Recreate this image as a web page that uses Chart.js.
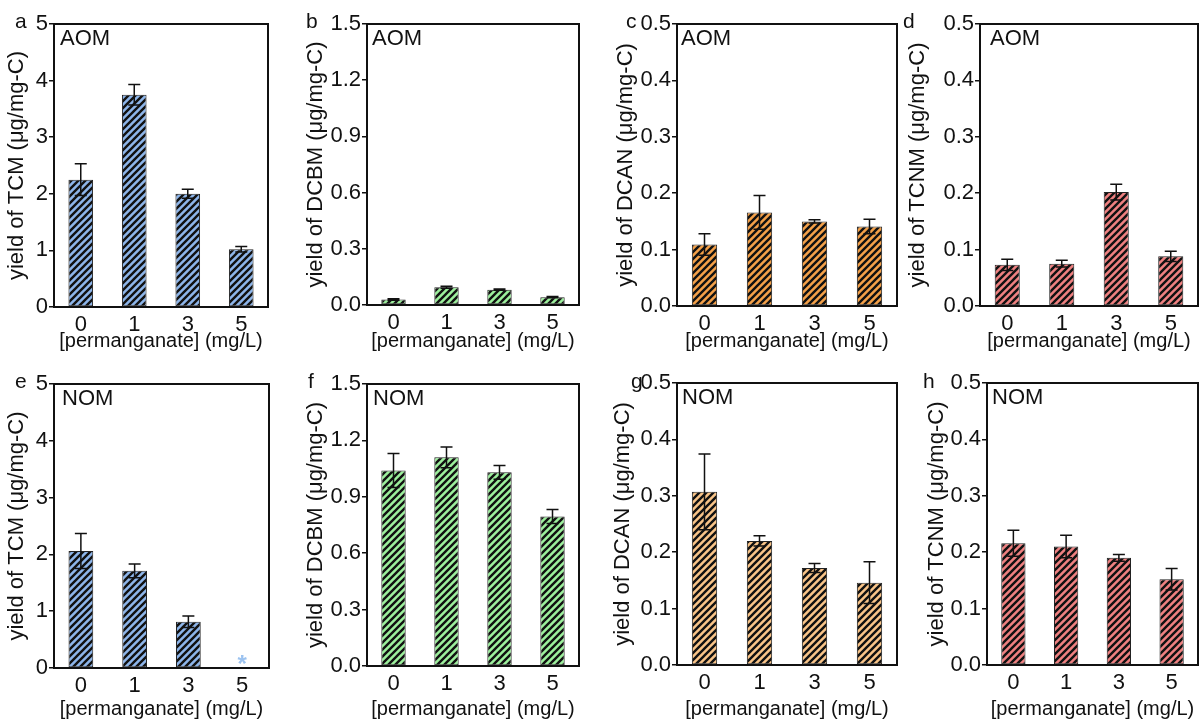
<!DOCTYPE html>
<html>
<head>
<meta charset="utf-8">
<script src="https://cdn.jsdelivr.net/npm/chart.js@4"></script>
<style>
body { margin: 0; background: #fff; width: 1201px; height: 719px; position: relative; overflow: hidden; }
canvas { position: absolute; }
</style>
</head>
<body>
<script>
const categories = ['0', '1', '3', '5'];

// AOM row
const tcmAom = [2.25, 3.75, 2.00, 1.02];
const tcmAomErr = [0.28, 0.18, 0.08, 0.05];
const dcbmAom = [0.030, 0.095, 0.082, 0.042];
const dcbmAomErr = [0.004, 0.005, 0.003, 0.003];
const dcanAom = [0.109, 0.166, 0.150, 0.141];
const dcanAomErr = [0.019, 0.030, 0.003, 0.013];
const tcnmAom = [0.073, 0.075, 0.202, 0.088];
const tcnmAomErr = [0.010, 0.006, 0.014, 0.009];

// NOM row (TCM at 5 mg/L not detected)
const tcmNom = [2.06, 1.71, 0.815, null];
const tcmNomErr = [0.31, 0.12, 0.10, 0];
const dcbmNom = [1.04, 1.11, 1.03, 0.795];
const dcbmNomErr = [0.09, 0.055, 0.037, 0.037];
const dcanNom = [0.307, 0.220, 0.172, 0.146];
const dcanNomErr = [0.067, 0.009, 0.008, 0.037];
const tcnmNom = [0.216, 0.210, 0.190, 0.152];
const tcnmNomErr = [0.023, 0.020, 0.006, 0.019];

const ticksTCM = [0, 1, 2, 3, 4, 5];
const ticksDCBM = [0, 0.3, 0.6, 0.9, 1.2, 1.5];
const ticksSmall = [0, 0.1, 0.2, 0.3, 0.4, 0.5];

Chart.defaults.font.family = '"Liberation Sans", Arial, sans-serif';
Chart.defaults.color = '#111';

function hatch(color) {
    const s = 7;
    const c = document.createElement('canvas');
    c.width = s;
    c.height = s;
    const g = c.getContext('2d');
    g.fillStyle = color;
    g.fillRect(0, 0, s, s);
    g.strokeStyle = '#111';
    g.lineWidth = 2.4;
    g.beginPath();
    g.moveTo(0, s); g.lineTo(s, 0);
    g.moveTo(-2, 2); g.lineTo(2, -2);
    g.moveTo(s - 2, s + 2); g.lineTo(s + 2, s - 2);
    g.stroke();
    return g.createPattern(c, 'repeat');
}

// canvas top/bottom for each row
const rows = [{ ct: 0, cb: 351 }, { ct: 362, cb: 719 }];

const panels = [
    { letter: 'a', lx: 15, tag: 'AOM', tx: 60, row: 0, name: 'TCM', vals: tcmAom, errs: tcmAomErr, ticks: ticksTCM, dec: 0, color: '#8db5ea', tc: 17, L: 54, R: 268, T: 24, B: 307 },
    { letter: 'b', lx: 306, tag: 'AOM', tx: 372, row: 0, name: 'DCBM', vals: dcbmAom, errs: dcbmAomErr, ticks: ticksDCBM, dec: 1, color: '#9cf09c', tc: 316, L: 367, R: 579, T: 24, B: 305 },
    { letter: 'c', lx: 626, tag: 'AOM', tx: 681, row: 0, name: 'DCAN', vals: dcanAom, errs: dcanAomErr, ticks: ticksSmall, dec: 1, color: '#f4a048', tc: 626, L: 677, R: 897, T: 24, B: 306 },
    { letter: 'd', lx: 903, tag: 'AOM', tx: 990, row: 0, name: 'TCNM', vals: tcnmAom, errs: tcnmAomErr, ticks: ticksSmall, dec: 1, color: '#ef8080', tc: 918, L: 980, R: 1198, T: 24, B: 306 },
    { letter: 'e', lx: 15, tag: 'NOM', tx: 62, row: 1, name: 'TCM', vals: tcmNom, errs: tcmNomErr, ticks: ticksTCM, dec: 0, color: '#8db5ea', tc: 17, L: 54, R: 269, T: 384, B: 668, star: true },
    { letter: 'f', lx: 308, tag: 'NOM', tx: 373, row: 1, name: 'DCBM', vals: dcbmNom, errs: dcbmNomErr, ticks: ticksDCBM, dec: 1, color: '#9cf09c', tc: 316, L: 367, R: 579, T: 384, B: 666 },
    { letter: 'g', lx: 631, tag: 'NOM', tx: 682, row: 1, name: 'DCAN', vals: dcanNom, errs: dcanNomErr, ticks: ticksSmall, dec: 1, color: '#f9c488', tc: 623, L: 677, R: 897, T: 383, B: 665 },
    { letter: 'h', lx: 923, tag: 'NOM', tx: 992, row: 1, name: 'TCNM', vals: tcnmNom, errs: tcnmNomErr, ticks: ticksSmall, dec: 1, color: '#ef8080', tc: 937, L: 987, R: 1198, T: 383, B: 665 },
];

panels.forEach(function (p) {
    const ct = rows[p.row].ct;
    const cb = rows[p.row].cb;
    const cl = p.tc - 11 - 20;
    const cr = Math.min(p.R + 8, 1201);

    const cv = document.createElement('canvas');
    cv.width = cr - cl;
    cv.height = cb - ct;
    cv.style.left = cl + 'px';
    cv.style.top = ct + 'px';
    document.body.appendChild(cv);

    const extras = {
        id: 'extras',
        afterDatasetsDraw(chart) {
            const ctx = chart.ctx;
            const ys = chart.scales.y;
            const meta = chart.getDatasetMeta(0);
            ctx.save();
            ctx.strokeStyle = '#111';
            ctx.lineWidth = 1.5;
            meta.data.forEach(function (bar, i) {
                const v = p.vals[i];
                const e = p.errs[i];
                if (v == null || !e) return;
                const yt = ys.getPixelForValue(v + e);
                const yb = ys.getPixelForValue(v - e);
                ctx.beginPath();
                ctx.moveTo(bar.x, yt); ctx.lineTo(bar.x, yb);
                ctx.moveTo(bar.x - 6, yt); ctx.lineTo(bar.x + 6, yt);
                ctx.moveTo(bar.x - 6, yb); ctx.lineTo(bar.x + 6, yb);
                ctx.stroke();
            });
            ctx.restore();
        },
        afterDraw(chart) {
            const ctx = chart.ctx;
            const a = chart.chartArea;
            ctx.save();
            ctx.strokeStyle = '#111';
            ctx.lineWidth = 2;
            ctx.strokeRect(a.left, a.top, a.right - a.left, a.bottom - a.top);
            ctx.fillStyle = '#111';
            ctx.textBaseline = 'alphabetic';
            ctx.textAlign = 'left';
            ctx.font = '21px "Liberation Sans", Arial, sans-serif';
            ctx.fillText(p.letter, p.lx - cl, 28 + (p.row ? 360 : 0) - ct);
            ctx.font = '22px "Liberation Sans", Arial, sans-serif';
            ctx.fillText(p.tag, p.tx - cl, a.top + 21);
            if (p.star) {
                ctx.fillStyle = '#9cc3f0';
                ctx.textAlign = 'center';
                ctx.font = 'bold 24px "Liberation Sans", Arial, sans-serif';
                ctx.fillText('*', chart.scales.x.getPixelForValue(3), chart.scales.y.getPixelForValue(0) + 4);
            }
            ctx.restore();
        }
    };

    new Chart(cv, {
        type: 'bar',
        data: {
            labels: categories,
            datasets: [{
                data: p.vals,
                backgroundColor: hatch(p.color),
                borderColor: '#222',
                borderWidth: 1,
                borderSkipped: false,
                barPercentage: 0.46,
                categoryPercentage: 1
            }]
        },
        options: {
            responsive: false,
            animation: false,
            layout: { padding: { left: 0, right: cr - p.R, top: p.T - ct, bottom: 0 } },
            plugins: { legend: { display: false }, tooltip: { enabled: false } },
            scales: {
                x: {
                    offset: true,
                    grid: { display: false, drawTicks: false },
                    border: { display: false },
                    ticks: { color: '#111', font: { size: 22 }, padding: 5 },
                    title: { display: true, text: '[permanganate] (mg/L)', color: '#111', font: { size: 20, lineHeight: 1 }, padding: 0 },
                    afterFit: function (s) { s.height = cb - p.B; }
                },
                y: {
                    min: 0,
                    max: p.ticks[p.ticks.length - 1],
                    grid: { display: true, drawOnChartArea: false, drawTicks: true, tickLength: 5, color: '#111', lineWidth: 1.5 },
                    border: { display: false },
                    afterBuildTicks: function (s) { s.ticks = p.ticks.map(function (v) { return { value: v }; }); },
                    ticks: {
                        color: '#111',
                        font: { size: 22 },
                        padding: 1,
                        callback: function (v) { return Number(v).toFixed(p.dec); }
                    },
                    title: { display: true, text: 'yield of ' + p.name + ' (\u03bcg/mg-C)', color: '#111', font: { size: 22, lineHeight: 1 }, padding: { top: 20, bottom: 0 } },
                    afterFit: function (s) { s.width = p.L - cl; }
                }
            }
        },
        plugins: [extras]
    });
});
</script>
</body>
</html>
